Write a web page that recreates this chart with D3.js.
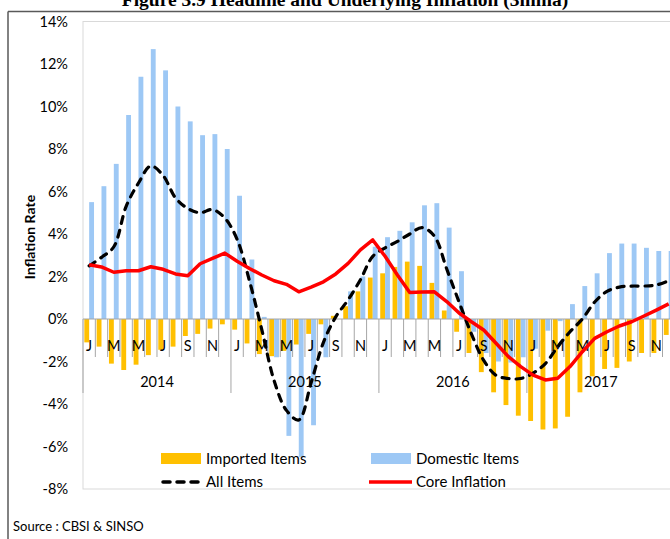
<!DOCTYPE html>
<html>
<head>
<meta charset="utf-8">
<script src="https://cdn.jsdelivr.net/npm/d3@7"></script>
<style>
  body { margin: 0; background: #fff; }
  svg { display: block; }
  text { font-family: Lato, 'Open Sans', sans-serif; fill: #000; }
</style>
</head>
<body>
<div id="chart"></div>
<script>
// monthly, Jan 2014 .. Dec 2017 (3 month moving average, % y/y)
const monthLetters = ['J', 'F', 'M', 'A', 'M', 'J', 'J', 'A', 'S', 'O', 'N', 'D']
const years = ['2014', '2015', '2016', '2017']
const yTicks = [-8, -6, -4, -2, 0, 2, 4, 6, 8, 10, 12, 14]

const imported = [
  -1.1, -1.3, -2.1, -2.4, -2.15, -1.7, -1.45, -1.3, -0.8, -0.7, -0.45, -0.25,
  -0.5, -1.15, -1.65, -1.75, -1.5, -1.2, -0.7, -0.25, 0.15, 0.6, 1.3, 1.95,
  2.15, 2.45, 2.7, 2.5, 1.7, 0.4, -0.6, -1.6, -2.5, -3.45, -4.05, -4.55,
  -4.8, -5.2, -5.15, -4.6, -3.45, -2.7, -2.35, -2.3, -2.0, -1.6, -1.6, -0.75
]
const domestic = [
  5.5, 6.25, 7.3, 9.6, 11.4, 12.7, 11.7, 10.0, 9.3, 8.65, 8.7, 8.0,
  5.8, 2.8, 0.1, -1.8, -5.5, -6.5, -5.0, -1.8, 0.0, 1.3, 2.0, 3.4,
  3.85, 4.15, 4.55, 5.35, 5.45, 4.3, 2.25, -0.6, -1.6, -2.0, -2.05, -1.8,
  -1.4, -0.55, -0.1, 0.7, 1.55, 2.15, 3.1, 3.55, 3.55, 3.35, 3.2, 3.2
]
const allItems = [
  2.5, 2.9, 3.4, 5.3, 6.4, 7.2, 6.75, 5.7, 5.2, 5.0, 5.15, 4.75,
  3.75, 1.8, -0.5, -2.9, -4.3, -4.75, -3.0, -1.1, 0.1, 0.9, 1.85, 2.95,
  3.35, 3.65, 4.0, 4.3, 3.9, 2.35, 0.8, -0.7, -1.95, -2.65, -2.8, -2.8,
  -2.55, -2.1, -1.3, -0.6, 0.0, 0.8, 1.3, 1.5, 1.55, 1.55, 1.6, 1.8
]
const core = [
  2.55, 2.45, 2.2, 2.27, 2.27, 2.46, 2.34, 2.12, 2.04, 2.6, 2.85, 3.1,
  2.72, 2.38, 2.07, 1.8, 1.63, 1.28, 1.5, 1.75, 2.12, 2.62, 3.25, 3.72,
  2.95, 2.07, 1.25, 1.27, 1.28, 0.82, 0.28, -0.13, -0.52, -1.14, -1.77, -2.24,
  -2.64, -2.87, -2.79, -2.24, -1.54, -0.91, -0.6, -0.33, -0.13, 0.14, 0.42, 0.71
]

const width = 670
const height = 539
const plotLeft = 83
const step = 12.33
const nMonths = imported.length
const orange = '#ffc000'
const blue = '#9dc8f5'
const tickGrey = '#a6a6a6'

const svg = d3.select('#chart')
  .append('svg')
  .attr('width', width)
  .attr('height', height)

const x = d3.scaleBand()
  .domain(d3.range(nMonths))
  .range([plotLeft, plotLeft + nMonths * step])
const sub = d3.scaleBand()
  .domain(['imported', 'domestic'])
  .range([0, x.bandwidth()])
  .paddingOuter(0.27)
const y = d3.scaleLinear()
  .domain([-8, 14])
  .range([489, 21.5])
const y0 = y(0)

// frame + title (title is cut off at the top in the source)
svg.append('text')
  .attr('x', 345)
  .attr('y', 6)
  .attr('text-anchor', 'middle')
  .style('font-family', "'Liberation Serif', 'DejaVu Serif', serif")
  .style('font-weight', 'bold')
  .style('font-size', '19.5px')
  .text('Figure 3.9 Headline and Underlying Inflation (3mma)')
svg.append('line')
  .attr('x1', 8).attr('x2', width)
  .attr('y1', 11.5).attr('y2', 11.5)
  .attr('stroke', '#595959').attr('stroke-width', 1.5)
svg.append('line')
  .attr('x1', 8).attr('x2', 8)
  .attr('y1', 11.5).attr('y2', height)
  .attr('stroke', '#595959').attr('stroke-width', 1.5)

// plot area border
svg.append('rect')
  .attr('x', plotLeft)
  .attr('y', y(14))
  .attr('width', nMonths * step + 10)
  .attr('height', y(-8) - y(14))
  .attr('fill', 'none')
  .attr('stroke', '#d9d9d9')

// y axis
const yAxis = svg.append('g')
  .attr('transform', `translate(${plotLeft},0)`)
  .call(d3.axisLeft(y).tickValues(yTicks).tickFormat(d => d + '%').tickSize(0).tickPadding(15))
yAxis.select('.domain').remove()
yAxis.selectAll('text')
  .style('font-family', 'Lato, sans-serif')
  .style('font-size', '14.5px')
  .attr('fill', '#000')

svg.append('text')
  .attr('transform', 'translate(35,237) rotate(-90)')
  .attr('text-anchor', 'middle')
  .style('font-weight', 'bold')
  .style('font-size', '14px')
  .text('Inflation Rate')

// bars
const bars = svg.append('g')
bars.selectAll('.imp')
  .data(imported)
  .enter()
  .append('rect')
  .attr('class', 'imp')
  .attr('x', (d, i) => x(i) + sub('imported'))
  .attr('width', sub.bandwidth())
  .attr('y', d => Math.min(y(d), y0))
  .attr('height', d => Math.abs(y(d) - y0))
  .attr('fill', orange)
bars.selectAll('.dom')
  .data(domestic)
  .enter()
  .append('rect')
  .attr('class', 'dom')
  .attr('x', (d, i) => x(i) + sub('domestic'))
  .attr('width', sub.bandwidth())
  .attr('y', d => Math.min(y(d), y0))
  .attr('height', d => Math.abs(y(d) - y0))
  .attr('fill', blue)

// category axis: zero line, month ticks, year separators
const xAxis = svg.append('g')
xAxis.append('line')
  .attr('x1', plotLeft).attr('x2', plotLeft + nMonths * step + 10)
  .attr('y1', y0).attr('y2', y0)
  .attr('stroke', tickGrey)
xAxis.selectAll('.mtick')
  .data(d3.range(nMonths + 1))
  .enter()
  .append('line')
  .attr('class', 'mtick')
  .attr('x1', i => plotLeft + i * step)
  .attr('x2', i => plotLeft + i * step)
  .attr('y1', y0)
  .attr('y2', i => i % 12 === 0 ? y0 + 74 : y0 + 38)
  .attr('stroke', tickGrey)
xAxis.selectAll('.mlabel')
  .data(d3.range(0, nMonths, 2))
  .enter()
  .append('text')
  .attr('class', 'mlabel')
  .attr('x', i => x(i) + x.bandwidth() / 2)
  .attr('y', y0 + 32)
  .attr('text-anchor', 'middle')
  .style('font-size', '14.5px')
  .text(i => monthLetters[i % 12])
xAxis.selectAll('.ylabel')
  .data(years)
  .enter()
  .append('text')
  .attr('class', 'ylabel')
  .attr('x', (d, k) => plotLeft + (k * 12 + 6) * step)
  .attr('y', y0 + 68)
  .attr('text-anchor', 'middle')
  .style('font-size', '14.5px')
  .text(d => d)

// lines
const cx = i => x(i) + x.bandwidth() / 2
const smooth = d3.line()
  .x((d, i) => cx(i))
  .y(d => y(d))
  .curve(d3.curveCatmullRom.alpha(0.5))
const straight = d3.line()
  .x((d, i) => cx(i))
  .y(d => y(d))

svg.append('path')
  .datum(allItems)
  .attr('d', smooth)
  .attr('fill', 'none')
  .attr('stroke', '#000')
  .attr('stroke-width', 3.2)
  .attr('stroke-dasharray', '7,7')
  .attr('stroke-linecap', 'round')
svg.append('path')
  .datum(core)
  .attr('d', straight)
  .attr('fill', 'none')
  .attr('stroke', '#ff0000')
  .attr('stroke-width', 3.5)
  .attr('stroke-linejoin', 'round')

// legend
const legend = svg.append('g').style('font-size', '15px')
legend.append('rect')
  .attr('x', 161).attr('y', 453).attr('width', 40).attr('height', 11)
  .attr('fill', orange)
legend.append('text').attr('x', 206).attr('y', 464).text('Imported Items')
legend.append('rect')
  .attr('x', 371).attr('y', 453).attr('width', 40).attr('height', 11)
  .attr('fill', blue)
legend.append('text').attr('x', 416).attr('y', 464).text('Domestic Items')
legend.append('line')
  .attr('x1', 161).attr('x2', 199).attr('y1', 482).attr('y2', 482)
  .attr('stroke', '#000').attr('stroke-width', 3.5)
  .attr('stroke-dasharray', '7,7').attr('stroke-linecap', 'round')
  .attr('transform', 'translate(2,0)')
legend.append('text').attr('x', 206).attr('y', 487).text('All Items')
legend.append('line')
  .attr('x1', 369).attr('x2', 412).attr('y1', 482).attr('y2', 482)
  .attr('stroke', '#ff0000').attr('stroke-width', 3.5)
legend.append('text').attr('x', 416).attr('y', 487).text('Core Inflation')

svg.append('text')
  .attr('x', 13)
  .attr('y', 531)
  .style('font-size', '13px')
  .text('Source : CBSI & SINSO')
</script>
</body>
</html>
